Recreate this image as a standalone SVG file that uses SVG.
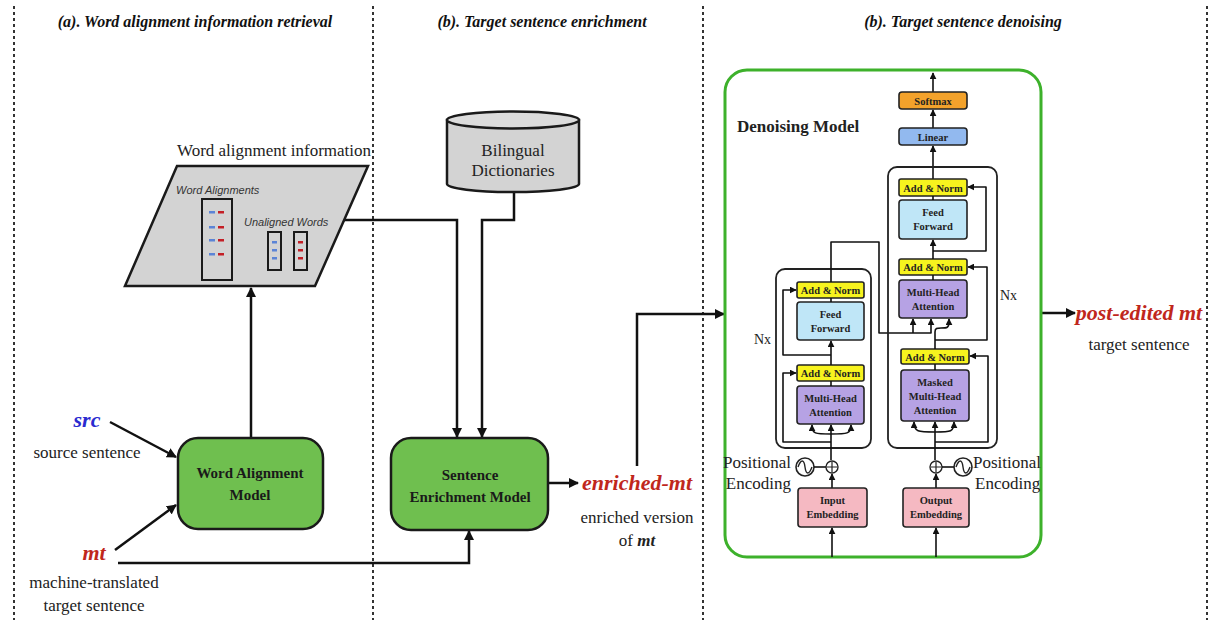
<svg xmlns="http://www.w3.org/2000/svg" width="1214" height="620" viewBox="0 0 1214 620">
  <defs>
    <marker id="arr" viewBox="0 0 10 10" refX="9" refY="5" markerWidth="10" markerHeight="10" markerUnits="userSpaceOnUse" orient="auto">
      <path d="M0,0 L10,5 L0,10 z" fill="#111"/>
    </marker>
    <marker id="arrS" viewBox="0 0 10 10" refX="9" refY="5" markerWidth="7" markerHeight="7" markerUnits="userSpaceOnUse" orient="auto">
      <path d="M0,0 L10,5 L0,10 z" fill="#111"/>
    </marker>
    <style>
      .sep { stroke: #333; stroke-width: 2; stroke-dasharray: 3 3; fill: none; }
      .title { font-family: 'Liberation Serif', 'Times New Roman', 'DejaVu Serif', serif; font-weight: bold; font-style: italic; font-size: 16px; fill: #111; }
      .lbl { font-family: 'Liberation Serif', 'Times New Roman', 'DejaVu Serif', serif; font-size: 17px; fill: #222; }
      .model { fill: #6fbf4f; stroke: #1a1a1a; stroke-width: 2.5; }
      .mtxt { font-family: 'Liberation Serif', 'Times New Roman', 'DejaVu Serif', serif; font-weight: bold; font-size: 15px; fill: #1a1a1a; }
      .var { font-family: 'Liberation Serif', 'Times New Roman', 'DejaVu Serif', serif; font-weight: bold; font-style: italic; font-size: 22px; }
      .red { fill: #c0271c; }
      .blue { fill: #2a2ad0; }
      .conn { stroke: #111; stroke-width: 2.5; fill: none; }
      .thin { stroke: #111; stroke-width: 1.6; fill: none; stroke-linejoin: round; }
      .blk { stroke: #222; stroke-width: 1.6; }
      .btxt { font-family: 'Liberation Serif', 'Times New Roman', 'DejaVu Serif', serif; font-weight: bold; font-size: 10.5px; fill: #222; }
      .serif { font-family: 'Liberation Serif', 'Times New Roman', 'DejaVu Serif', serif; }
      .an { fill: #f7f31e; }
      .ff { fill: #bfe6f7; }
      .mha { fill: #b6a2e4; }
      .emb { fill: #f5b9c2; }
      .wsans { font-family: 'Liberation Sans', Arial, sans-serif; font-style: italic; font-size: 11px; fill: #333; }
    </style>
  </defs>

  <!-- section separators -->
  <g id="separators">
    <line class="sep" x1="14" y1="6" x2="14" y2="620"/>
    <line class="sep" x1="373" y1="6" x2="373" y2="620"/>
    <line class="sep" x1="703" y1="6" x2="703" y2="620"/>
    <line class="sep" x1="1207" y1="6" x2="1207" y2="620"/>
  </g>

  <!-- section titles -->
  <g id="titles">
    <text class="title" x="195" y="27" text-anchor="middle">(a). Word alignment information retrieval</text>
    <text class="title" x="542" y="27" text-anchor="middle">(b). Target sentence enrichment</text>
    <text class="title" x="963" y="27" text-anchor="middle">(b). Target sentence denoising</text>
  </g>

  <!-- connectors -->
  <g id="connectors">
    <!-- src / mt into word alignment model -->
    <line class="conn" x1="110" y1="422" x2="176" y2="457" marker-end="url(#arr)"/>
    <line class="conn" x1="115" y1="550" x2="176" y2="505" marker-end="url(#arr)"/>
    <!-- word alignment model up to information -->
    <line class="conn" x1="251" y1="438" x2="251" y2="288" marker-end="url(#arr)"/>
    <!-- alignment information to enrichment -->
    <polyline class="conn" points="343,220 457,220 457,437" marker-end="url(#arr)"/>
    <!-- dictionaries to enrichment -->
    <polyline class="conn" points="514,191 514,220 482,220 482,437" marker-end="url(#arr)"/>
    <!-- mt to enrichment -->
    <polyline class="conn" points="118,563 469,563 469,531" marker-end="url(#arr)"/>
    <!-- enrichment to enriched-mt -->
    <line class="conn" x1="548" y1="483" x2="578" y2="483" marker-end="url(#arr)"/>
    <!-- enriched-mt to denoising model -->
    <polyline class="conn" points="637,466 637,314 724,314" marker-end="url(#arr)"/>
    <!-- denoising model to output -->
    <line class="conn" x1="1041" y1="313" x2="1075" y2="313" marker-end="url(#arr)"/>
  </g>

  <!-- word alignment information -->
  <g id="word-alignment-info">
    <text class="lbl" x="274" y="156" text-anchor="middle">Word alignment information</text>
    <polygon points="177,166 368,166 315,286 125,286" fill="#d3d3d3" stroke="#1a1a1a" stroke-width="2.5"/>
    <text class="wsans" x="176" y="194">Word Alignments</text>
    <text class="wsans" x="244" y="226">Unaligned Words</text>
    <rect x="202" y="199" width="30" height="81" fill="#d3d3d3" stroke="#1a1a1a" stroke-width="2"/>
    <rect x="268" y="232" width="13" height="38" fill="#d3d3d3" stroke="#1a1a1a" stroke-width="2"/>
    <rect x="294" y="232" width="13" height="38" fill="#d3d3d3" stroke="#1a1a1a" stroke-width="2"/>
    <g fill="#5b84d6">
      <rect x="209" y="211" width="6" height="2.5"/>
      <rect x="209" y="226" width="6" height="2.5"/>
      <rect x="209" y="239" width="6" height="2.5"/>
      <rect x="209" y="253" width="6" height="2.5"/>
      <rect x="272" y="241" width="5" height="2.5"/>
      <rect x="272" y="249" width="5" height="2.5"/>
      <rect x="272" y="257" width="5" height="2.5"/>
    </g>
    <g fill="#c41f26">
      <rect x="218" y="211" width="6" height="2.5"/>
      <rect x="218" y="226" width="6" height="2.5"/>
      <rect x="218" y="239" width="6" height="2.5"/>
      <rect x="218" y="253" width="6" height="2.5"/>
      <rect x="298" y="241" width="5" height="2.5"/>
      <rect x="298" y="249" width="5" height="2.5"/>
      <rect x="298" y="257" width="5" height="2.5"/>
    </g>
  </g>

  <!-- inputs -->
  <g id="src">
    <text class="var blue" x="87" y="427" text-anchor="middle">src</text>
    <text class="lbl" x="87" y="458" text-anchor="middle">source sentence</text>
  </g>
  <g id="mt">
    <text class="var red" x="94" y="560" text-anchor="middle">mt</text>
    <text class="lbl" x="94" y="588" text-anchor="middle">machine-translated</text>
    <text class="lbl" x="94" y="611" text-anchor="middle">target sentence</text>
  </g>

  <!-- word alignment model -->
  <g id="word-alignment-model">
    <rect class="model" x="178" y="438" width="145" height="91" rx="20"/>
    <text class="mtxt" x="250" y="478" text-anchor="middle">Word Alignment</text>
    <text class="mtxt" x="250" y="500" text-anchor="middle">Model</text>
  </g>

  <!-- bilingual dictionaries -->
  <g id="bilingual-dictionaries">
    <path d="M447,120 L447,184 A66,8 0 0 0 579,184 L579,120 Z" fill="#d3d3d3" stroke="#1a1a1a" stroke-width="2.5"/>
    <ellipse cx="513" cy="120" rx="66" ry="8.5" fill="#dcdcdc" stroke="#1a1a1a" stroke-width="2.5"/>
    <text class="lbl" x="513" y="156" text-anchor="middle">Bilingual</text>
    <text class="lbl" x="513" y="176" text-anchor="middle">Dictionaries</text>
  </g>

  <!-- sentence enrichment model -->
  <g id="sentence-enrichment-model">
    <rect class="model" x="391" y="438" width="157" height="92" rx="20"/>
    <text class="mtxt" x="470" y="480" text-anchor="middle">Sentence</text>
    <text class="mtxt" x="470" y="502" text-anchor="middle">Enrichment Model</text>
  </g>

  <!-- enriched-mt -->
  <g id="enriched-mt">
    <text class="var red" x="637" y="490" text-anchor="middle">enriched-mt</text>
    <text class="lbl" x="637" y="523" text-anchor="middle">enriched version</text>
    <text class="lbl" x="637" y="546" text-anchor="middle">of <tspan font-weight="bold" font-style="italic">mt</tspan></text>
  </g>

  <!-- denoising model -->
  <g id="denoising-model">
    <rect x="725" y="70" width="316" height="487" rx="22" fill="#fff" stroke="#3db12b" stroke-width="3"/>
    <text class="serif" x="737" y="132" font-weight="bold" font-size="17" fill="#222">Denoising Model</text>

    <!-- output head -->
    <line class="thin" x1="933" y1="92" x2="933" y2="73" marker-end="url(#arrS)"/>
    <rect class="blk" x="899" y="92" width="68" height="17" rx="3" fill="#f3a22b"/>
    <text class="btxt" x="933" y="104.5" text-anchor="middle">Softmax</text>
    <line class="thin" x1="933" y1="128" x2="933" y2="110" marker-end="url(#arrS)"/>
    <rect class="blk" x="899" y="128" width="68" height="17" rx="3" fill="#92b9ef"/>
    <text class="btxt" x="933" y="140.5" text-anchor="middle">Linear</text>
    <line class="thin" x1="933" y1="179" x2="933" y2="146" marker-end="url(#arrS)"/>

    <!-- encoder stack -->
    <rect x="776" y="269" width="95" height="179" rx="9" fill="none" stroke="#222" stroke-width="1.8"/>
    <text class="serif" x="754" y="344" font-size="14" fill="#222">Nx</text>
    <rect class="blk an" x="797" y="282" width="67" height="16" rx="2"/>
    <text class="btxt" x="830.5" y="294" text-anchor="middle">Add &amp; Norm</text>
    <rect class="blk ff" x="797" y="302" width="67" height="38" rx="3"/>
    <text class="btxt" x="830.5" y="318" text-anchor="middle">Feed</text>
    <text class="btxt" x="830.5" y="332" text-anchor="middle">Forward</text>
    <rect class="blk an" x="797" y="365" width="67" height="16" rx="2"/>
    <text class="btxt" x="830.5" y="377" text-anchor="middle">Add &amp; Norm</text>
    <rect class="blk mha" x="797" y="386" width="67" height="38" rx="3"/>
    <text class="btxt" x="830.5" y="402" text-anchor="middle">Multi-Head</text>
    <text class="btxt" x="830.5" y="416" text-anchor="middle">Attention</text>
    <line class="thin" x1="831" y1="298" x2="831" y2="302"/>
    <line class="thin" x1="831" y1="381" x2="831" y2="386"/>
    <line class="thin" x1="831" y1="365" x2="831" y2="341" marker-end="url(#arrS)"/>
    <polyline class="thin" points="831,355 783,355 783,290 796,290" marker-end="url(#arrS)"/>
    <polyline class="thin" points="831,442 783,442 783,373 796,373" marker-end="url(#arrS)"/>
    <line class="thin" x1="831" y1="460" x2="831" y2="425" marker-end="url(#arrS)"/>
    <path class="thin" d="M831,434 C815,434 812,434 812,425" marker-end="url(#arrS)"/>
    <path class="thin" d="M831,434 C847,434 851,434 851,425" marker-end="url(#arrS)"/>
    <!-- encoder output to decoder -->
    <polyline class="thin" points="831,282 831,242 879,242 879,333 931,333 931,319" marker-end="url(#arrS)"/>
    <line class="thin" x1="913" y1="333" x2="913" y2="319" marker-end="url(#arrS)"/>

    <!-- encoder input -->
    <circle cx="805" cy="467" r="9" fill="#fff" stroke="#222" stroke-width="1.6"/>
    <path d="M798,467 C801,459 804,459 805,467 C806,475 809,475 812,467" fill="none" stroke="#222" stroke-width="1.4"/>
    <line class="thin" x1="814" y1="467" x2="826" y2="467"/>
    <circle cx="832" cy="467" r="6" fill="#fff" stroke="#222" stroke-width="1.4"/>
    <path d="M832,462 V472 M827,467 H837" stroke="#222" stroke-width="1.2"/>
    <text class="lbl" x="791" y="468" text-anchor="end" font-size="16">Positional</text>
    <text class="lbl" x="791" y="489" text-anchor="end" font-size="16">Encoding</text>
    <line class="thin" x1="832" y1="488" x2="832" y2="474" marker-end="url(#arrS)"/>
    <rect class="blk emb" x="798" y="488" width="69" height="39" rx="3"/>
    <text class="btxt" x="832.5" y="504" text-anchor="middle">Input</text>
    <text class="btxt" x="832.5" y="518" text-anchor="middle">Embedding</text>
    <line class="thin" x1="832" y1="557" x2="832" y2="528" marker-end="url(#arrS)"/>

    <!-- decoder stack -->
    <rect x="888" y="167" width="109" height="281" rx="9" fill="none" stroke="#222" stroke-width="1.8"/>
    <text class="serif" x="1000" y="300" font-size="14" fill="#222">Nx</text>
    <rect class="blk an" x="899" y="179" width="68" height="17" rx="2"/>
    <text class="btxt" x="933" y="191.5" text-anchor="middle">Add &amp; Norm</text>
    <rect class="blk ff" x="899" y="200" width="68" height="39" rx="3"/>
    <text class="btxt" x="933" y="216" text-anchor="middle">Feed</text>
    <text class="btxt" x="933" y="230" text-anchor="middle">Forward</text>
    <rect class="blk an" x="899" y="259" width="68" height="16" rx="2"/>
    <text class="btxt" x="933" y="271" text-anchor="middle">Add &amp; Norm</text>
    <rect class="blk mha" x="899" y="280" width="68" height="38" rx="3"/>
    <text class="btxt" x="933" y="296" text-anchor="middle">Multi-Head</text>
    <text class="btxt" x="933" y="310" text-anchor="middle">Attention</text>
    <rect class="blk an" x="901" y="349" width="68" height="15" rx="2"/>
    <text class="btxt" x="935" y="360.5" text-anchor="middle">Add &amp; Norm</text>
    <rect class="blk mha" x="901" y="370" width="68" height="51" rx="3"/>
    <text class="btxt" x="935" y="386" text-anchor="middle">Masked</text>
    <text class="btxt" x="935" y="400" text-anchor="middle">Multi-Head</text>
    <text class="btxt" x="935" y="414" text-anchor="middle">Attention</text>
    <line class="thin" x1="933" y1="196" x2="933" y2="200"/>
    <line class="thin" x1="933" y1="275" x2="933" y2="280"/>
    <line class="thin" x1="933" y1="259" x2="933" y2="240" marker-end="url(#arrS)"/>
    <polyline class="thin" points="933,251 986,251 986,187 968,187" marker-end="url(#arrS)"/>
    <line class="thin" x1="935" y1="364" x2="935" y2="370"/>
    <path class="thin" d="M935,349 L935,332 C935,328 937,328 941,328 C947,328 949,328 949,322 L949,319" marker-end="url(#arrS)"/>
    <polyline class="thin" points="935,340 987,340 987,267 968,267" marker-end="url(#arrS)"/>
    <polyline class="thin" points="935,442 988,442 988,356 970,356" marker-end="url(#arrS)"/>
    <line class="thin" x1="935" y1="460" x2="935" y2="422" marker-end="url(#arrS)"/>
    <path class="thin" d="M935,432 C918,432 914,432 914,422" marker-end="url(#arrS)"/>
    <path class="thin" d="M935,432 C951,432 954,432 954,422" marker-end="url(#arrS)"/>

    <!-- decoder input -->
    <circle cx="936" cy="467" r="6" fill="#fff" stroke="#222" stroke-width="1.4"/>
    <path d="M936,462 V472 M931,467 H941" stroke="#222" stroke-width="1.2"/>
    <line class="thin" x1="942" y1="467" x2="954" y2="467"/>
    <circle cx="963" cy="467" r="9" fill="#fff" stroke="#222" stroke-width="1.6"/>
    <path d="M956,467 C959,459 962,459 963,467 C964,475 967,475 970,467" fill="none" stroke="#222" stroke-width="1.4"/>
    <text class="lbl" x="973" y="468" font-size="16">Positional</text>
    <text class="lbl" x="975" y="489" font-size="16">Encoding</text>
    <line class="thin" x1="936" y1="488" x2="936" y2="474" marker-end="url(#arrS)"/>
    <rect class="blk emb" x="903" y="488" width="66" height="39" rx="3"/>
    <text class="btxt" x="936" y="504" text-anchor="middle">Output</text>
    <text class="btxt" x="936" y="518" text-anchor="middle">Embedding</text>
    <line class="thin" x1="936" y1="557" x2="936" y2="528" marker-end="url(#arrS)"/>
  </g>

  <!-- output -->
  <g id="post-edited-mt">
    <text class="var red" x="1139" y="320" text-anchor="middle">post-edited mt</text>
    <text class="lbl" x="1139" y="350" text-anchor="middle">target sentence</text>
  </g>
</svg>
